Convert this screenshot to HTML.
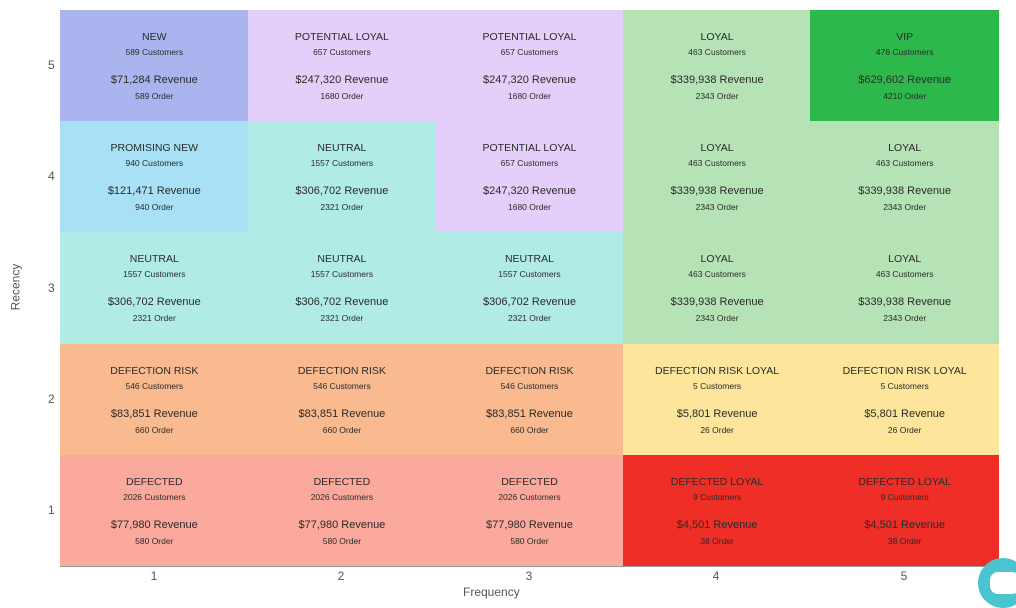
<!DOCTYPE html>
<html><head><style>
body{margin:0;width:1016px;height:602px;background:#fff;font-family:"Liberation Sans",sans-serif;position:relative;overflow:hidden}
.c{position:absolute;width:188px;height:112px;text-align:center;color:#2a2a2a}
.t{position:absolute;left:0;right:0;top:21px;font-size:10.5px}
.s{position:absolute;left:0;right:0;font-size:8.5px}
.r{position:absolute;left:0;right:0;top:64px;font-size:11px}
.yl{position:absolute;left:48px;font-size:12px;color:#555}
.xl{position:absolute;top:569px;font-size:12px;color:#555;width:20px;text-align:center}
</style></head><body>
<div id="g"></div>
<div style="position:absolute;left:60px;top:566px;width:938px;height:1px;background:#999"></div>
<div class="yl" style="top:58px">5</div><div class="yl" style="top:169px">4</div><div class="yl" style="top:281px">3</div><div class="yl" style="top:392px">2</div><div class="yl" style="top:503px">1</div>
<div class="xl" style="left:144px">1</div><div class="xl" style="left:331px">2</div><div class="xl" style="left:519px">3</div><div class="xl" style="left:706px">4</div><div class="xl" style="left:894px">5</div>
<div style="position:absolute;left:463px;top:585px;font-size:12px;color:#555">Frequency</div>
<div style="position:absolute;left:-8px;top:280px;font-size:12px;color:#555;transform:rotate(-90deg)">Recency</div>
<div style="position:absolute;left:978px;top:558px;width:50px;height:50px;border-radius:50%;background:#4cc3d1"></div>
<div style="position:absolute;left:990px;top:572px;width:30px;height:22px;border-radius:8px;background:#fff"></div>
<script>
var D={
NEW:["#aab5ef","589 Customers","$71,284 Revenue","589 Order"],
PL:["#e3cffa","657 Customers","$247,320 Revenue","1680 Order","POTENTIAL LOYAL"],
L:["#b6e3b5","463 Customers","$339,938 Revenue","2343 Order","LOYAL"],
VIP:["#2db84c","476 Customers","$629,602 Revenue","4210 Order","VIP"],
PN:["#a8e0f6","940 Customers","$121,471 Revenue","940 Order","PROMISING NEW"],
N:["#b0ebe6","1557 Customers","$306,702 Revenue","2321 Order","NEUTRAL"],
DR:["#f9ba90","546 Customers","$83,851 Revenue","660 Order","DEFECTION RISK"],
DRL:["#fde59b","5 Customers","$5,801 Revenue","26 Order","DEFECTION RISK LOYAL"],
D:["#fba99c","2026 Customers","$77,980 Revenue","580 Order","DEFECTED"],
DL:["#ee2e27","9 Customers","$4,501 Revenue","38 Order","DEFECTED LOYAL"]};
D.NEW[4]="NEW";
var G=[["NEW","PL","PL","L","VIP"],["PN","N","PL","L","L"],["N","N","N","L","L"],["DR","DR","DR","DRL","DRL"],["D","D","D","DL","DL"]];
var h="";
for(var r=0;r<5;r++)for(var c=0;c<5;c++){var d=D[G[r][c]];var x=60+c*187.6,y=10+r*111.2;
h+='<div class="c" style="left:'+x+'px;top:'+y+'px;width:188.6px;height:112.2px;background:'+d[0]+'"><div class="t">'+d[4]+'</div><div class="s" style="top:37px">'+d[1]+'</div><div class="r">'+d[2]+'</div><div class="s" style="top:81px">'+d[3]+'</div></div>';}
document.getElementById("g").innerHTML=h;
</script>
</body></html>
